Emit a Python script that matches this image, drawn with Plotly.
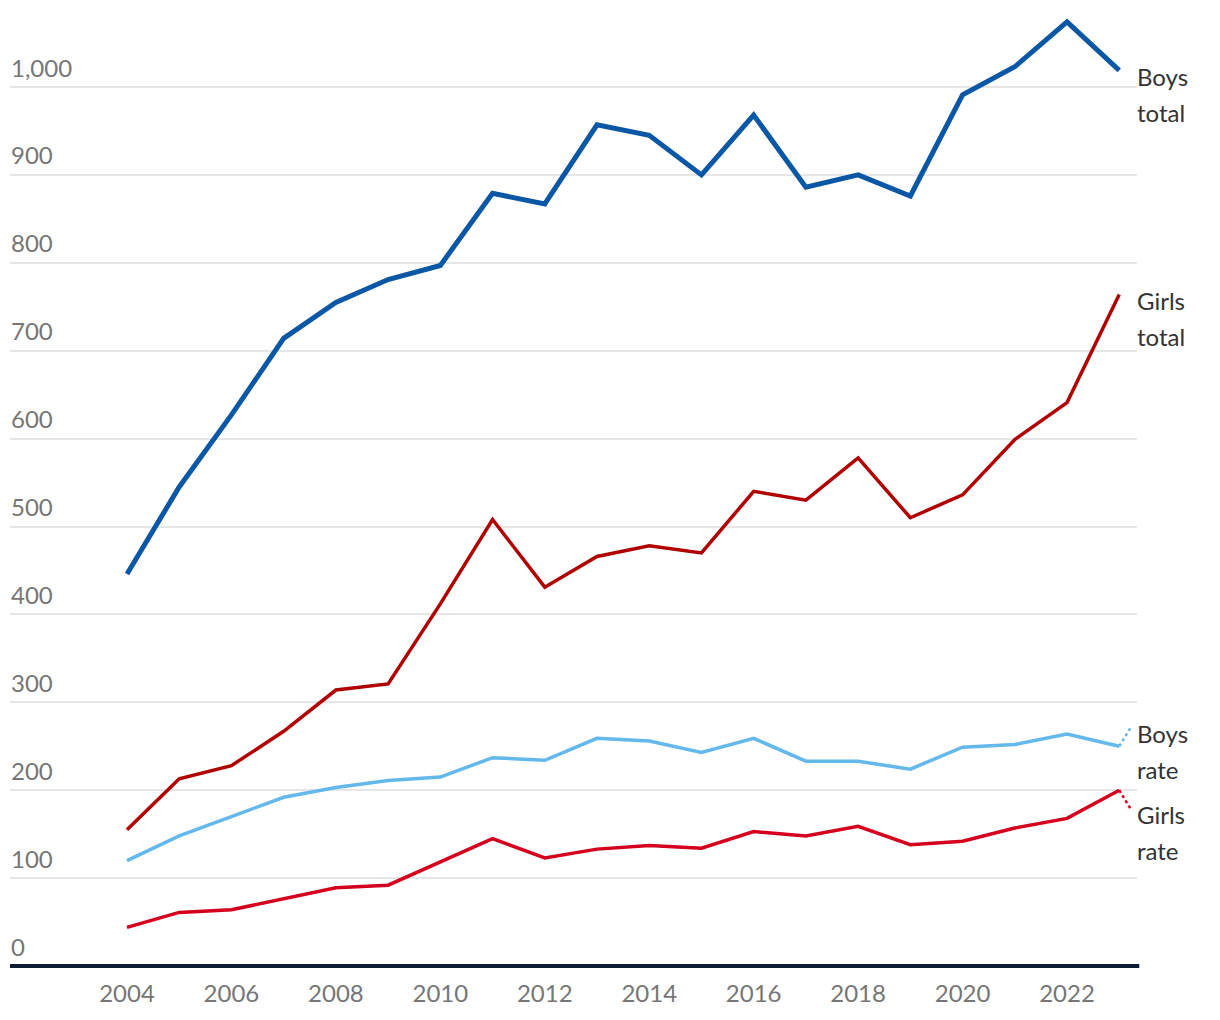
import plotly.graph_objects as go

years = list(range(2004, 2024))
boys_total = [446, 545, 627, 714, 755, 781, 797, 879, 867, 957, 945, 900, 968, 886, 900, 876, 991, 1023, 1074, 1019]
girls_total = [155, 213, 228, 267, 314, 321, 412, 508, 431, 466, 478, 470, 540, 530, 578, 510, 536, 599, 641, 764]
boys_rate = [120, 148, 170, 192, 203, 211, 215, 237, 234, 259, 256, 243, 259, 233, 233, 224, 249, 252, 264, 250]
girls_rate = [44, 61, 64, 76, 89, 92, 119, 145, 123, 133, 137, 134, 153, 148, 159, 138, 142, 157, 168, 200]

y_ticks = [0, 100, 200, 300, 400, 500, 600, 700, 800, 900, 1000]
y_tick_text = ["0", "100", "200", "300", "400", "500", "600", "700", "800", "900", "1,000"]
x_ticks = [2004, 2006, 2008, 2010, 2012, 2014, 2016, 2018, 2020, 2022]

series = [
    ("Boys total", boys_total, "#0a57a6", 5.0, ["Boys", "total"], -6, None),
    ("Girls total", girls_total, "#b00000", 3.5, ["Girls", "total"], -6, None),
    ("Boys rate", boys_rate, "#63b8ec", 3.5, ["Boys", "rate"], 13, 18),
    ("Girls rate", girls_rate, "#d4001e", 3.5, ["Girls", "rate"], -24, -18),
]

FONT = "Lato"
fig = go.Figure()
annotations = []
shapes = []

for name, vals, color, width, lines, off, leader in series:
    fig.add_trace(go.Scatter(
        x=years, y=vals, mode="lines", name=name,
        line=dict(color=color, width=width, shape="linear"),
        hoverinfo="skip", showlegend=False,
    ))
    for i, t in enumerate(lines):
        annotations.append(dict(
            x=years[-1], y=vals[-1], xref="x", yref="y",
            text=t, showarrow=False, xanchor="left", yanchor="middle",
            xshift=17, yshift=off - 36 * i, borderpad=0,
            font=dict(family=FONT, size=24, color="#333333"),
        ))
    if leader is not None:
        shapes.append(dict(
            type="line", xref="x", yref="y",
            xsizemode="pixel", xanchor=years[-1], x0=0, x1=11,
            ysizemode="pixel", yanchor=vals[-1], y0=0, y1=leader,
            line=dict(color=color, width=2.5, dash="dot"),
        ))

for v, t in zip(y_ticks, y_tick_text):
    annotations.append(dict(
        x=0, y=v, xref="paper", yref="y", text=t, showarrow=False,
        xanchor="left", yanchor="middle", yshift=20, borderpad=0,
        font=dict(family=FONT, size=24, color="#767676"),
    ))

shapes.append(dict(
    type="line", xref="paper", yref="y", x0=0, x1=1.002, y0=0, y1=0,
    line=dict(color="#0c1a33", width=4), layer="above",
))

fig.update_layout(
    width=1204, height=1004,
    margin=dict(l=2, r=75, t=2, b=37),
    paper_bgcolor="white", plot_bgcolor="white",
    font=dict(family=FONT, size=24, color="#767676"),
    annotations=annotations, shapes=shapes,
    xaxis=dict(
        range=[2001.76, 2023.34], tickvals=x_ticks, ticktext=[str(x) for x in x_ticks],
        showgrid=False, zeroline=False, showline=False, ticks="",
        ticklabelstandoff=2,
        tickfont=dict(family=FONT, size=24, color="#767676"),
    ),
    yaxis=dict(
        range=[-10.2, 1087.6], tickvals=y_ticks[1:], showticklabels=False,
        showgrid=True, gridcolor="#e6e6e6", gridwidth=1.6,
        zeroline=False, showline=False, ticks="",
    ),
)

fig.write_html("out.html")
